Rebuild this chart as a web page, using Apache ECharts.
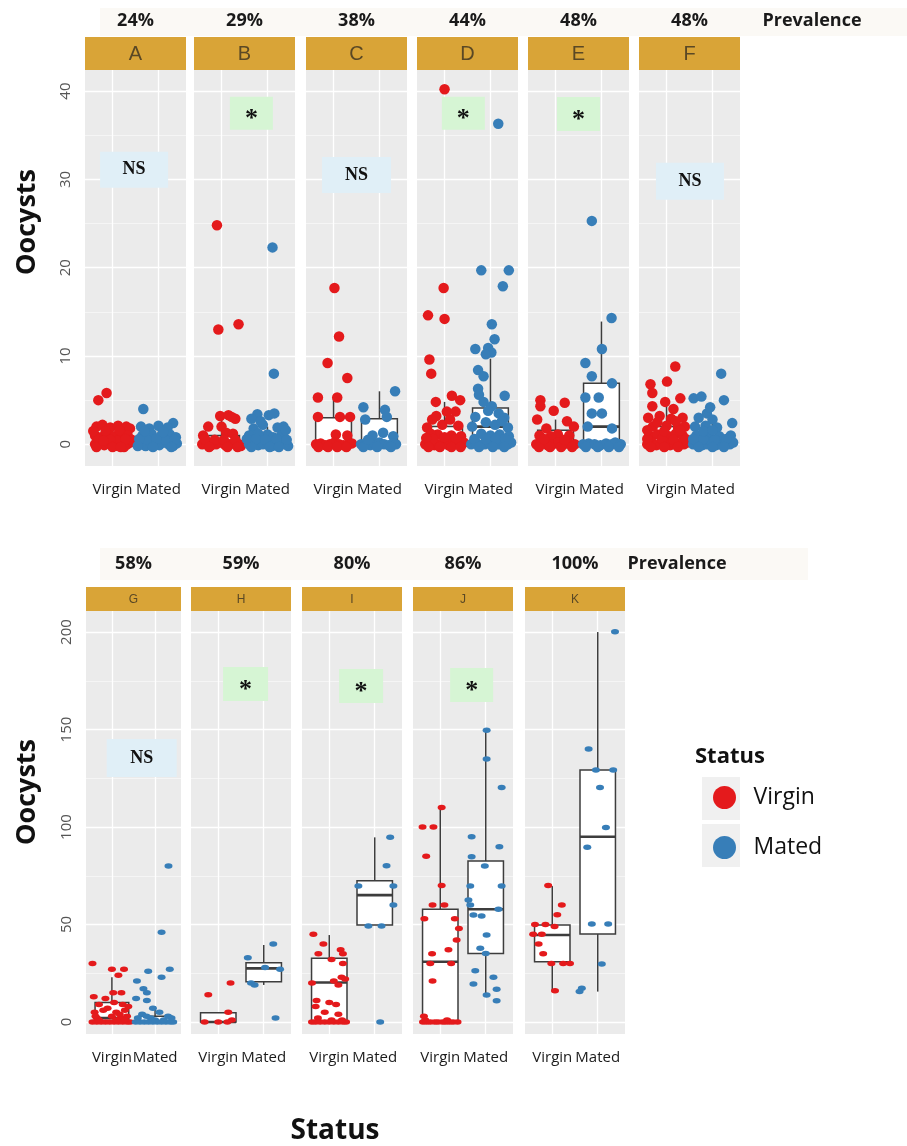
<!DOCTYPE html>
<html><head><meta charset="utf-8">
<script src="https://cdn.jsdelivr.net/npm/echarts@6/dist/echarts.min.js"></script>
<style>html,body{margin:0;padding:0;background:#fff}#chart{width:907px;height:1146px}</style>
</head><body><div id="chart"></div>
<script>
// ---------------- data ----------------
const panels = ['A','B','C','D','E','F','G','H','I','J','K'];
const prevalence = ['24%','29%','38%','44%','48%','48%','58%','59%','80%','86%','100%'];
const significance = ['NS','*','NS','*','*','NS','NS','*','*','*',''];
const statusNames = ['Virgin','Mated'];
const topTicks = [0,10,20,30,40];
const topMinor = [5,15,25,35];
const bottomTicks = [0,50,100,150,200];
const bottomMinor = [25,75,125,175];

// box statistics [min, Q1, median, Q3, max]
const boxVirgin = [[0,0,0,1,2],[0,0,0,1,3],[0,0,0,3,5.3],[0,0,0,2,4.8],[0,0,0,1.6,2.8],[0,0,1,2,4.5],
  [0,0,2,10,23],[0,0,0,4.8,4.8],[0,0,20.3,32.7,44.6],[0,0,30.9,57.8,110.4],[15.6,30.9,44.6,49.7,69.7]];
const boxMated = [[0,0,0,1,2],[0,0,0,1,2],[0,0,0,2.9,6],[0,1,2,4.1,9.7],[0,0,2,6.9,13.9],[0,0,0,1,2.4],
  [0,0,0,3,8],[19,20.7,27.5,30.4,39.5],[49.7,49.7,65.1,72.5,94.7],[13.8,35.2,57.8,82.6,149.7],[15.6,45.1,95,129.2,200]];

// jittered observations: [horizontal jitter, oocysts]
const virginA = [[-0.31,5],[-0.13,5.8],[-0.35,2],[-0.22,2.2],[-0.05,1.9],[0.12,2.1],[0.3,2],[0.38,1.8],[-0.38,1],[-0.25,0.8],[-0.1,1.1],[0.05,0.9],[0.2,1.2],[0.33,1],[-0.38,0],[-0.28,0.2],[-0.18,-0.1],[-0.08,0.1],[0.02,0],[0.12,-0.2],[0.22,0.1],[0.32,0],[0.38,0.2],[-0.3,0.5],[0.1,0.4],[0.25,-0.3],[-0.42,1.5],[-0.15,1.5],[0.15,1.6],[0.42,0.5],[-0.05,0.5],[0.28,0.6],[-0.35,-0.3],[0,-0.3],[0.18,-0.3],[-0.2,0.4]];
const matedA = [[-0.33,4],[0.32,2.4],[-0.38,2],[-0.2,1.8],[0,2.1],[0.2,1.9],[-0.35,1],[-0.15,1.2],[0.05,0.9],[0.25,1.1],[0.38,0.8],[-0.38,0],[-0.28,-0.2],[-0.18,0.2],[-0.08,0],[0.02,-0.1],[0.12,0.2],[0.22,0],[0.32,-0.2],[0.4,0.1],[-0.25,0.5],[0.15,0.5],[-0.42,0.6],[-0.05,0.6],[0.35,0.5],[-0.3,1.5],[0.1,1.4],[-0.12,-0.3],[0.28,-0.3],[-0.45,-0.2]];
const virginB = [[-0.1,24.8],[-0.07,13],[0.37,13.6],[-0.03,3.2],[0.15,3.3],[0.3,2.9],[0.22,3.1],[-0.29,2],[0,2],[0.1,1.3],[-0.4,1],[0.25,1.2],[-0.42,0],[-0.32,0.2],[-0.22,-0.1],[-0.12,0],[-0.02,0.2],[0.08,-0.1],[0.18,0],[0.28,0.1],[0.38,0],[0.42,-0.2],[-0.36,0.6],[-0.15,0.5],[0.05,0.5],[0.3,0.5],[-0.27,-0.3],[0.13,-0.3],[0.35,-0.3]];
const matedB = [[0.11,22.3],[0.14,8],[-0.22,3.4],[0.03,3.3],[0.15,3.5],[-0.35,2.9],[0.35,2],[-0.1,2.2],[0.22,1.9],[-0.3,1.8],[0,1.1],[-0.4,1],[0.3,1],[0.12,0.8],[-0.2,1.2],[-0.4,0],[-0.3,0.2],[-0.2,-0.1],[-0.1,0],[0,0.2],[0.1,-0.2],[0.2,0],[0.3,0.1],[0.4,0],[0.45,-0.2],[-0.45,0.6],[-0.25,0.6],[-0.05,0.5],[0.2,0.6],[0.42,0.5],[-0.35,-0.3],[0.05,-0.3],[0.25,-0.3],[-0.15,2.6],[0.4,1.6]];
const virginC = [[0.02,17.7],[0.12,12.2],[-0.13,9.2],[0.3,7.5],[-0.34,5.3],[0.08,5.3],[-0.34,3.1],[0.14,3.1],[0.36,3.1],[0.05,1.1],[0.3,1],[-0.38,0],[-0.28,0.1],[-0.18,-0.1],[-0.08,0],[0.02,0.2],[0.12,0],[0.22,-0.1],[0.32,0],[0.4,0.1],[-0.33,-0.3],[-0.12,-0.3],[0.08,-0.3],[0.28,-0.3]];
const matedC = [[0.34,6],[-0.35,4.2],[0.12,3.9],[-0.31,2.8],[0.16,3.1],[0.08,1.3],[-0.15,1],[0.3,0.9],[-0.4,0],[-0.3,0.1],[-0.2,-0.1],[-0.1,0],[0,0.2],[0.1,0],[0.2,-0.1],[0.3,0.1],[0.36,0],[-0.35,-0.3],[-0.05,-0.3],[0.25,-0.3],[-0.25,0.5]];
const virginD = [[0,40.2],[-0.02,17.7],[-0.36,14.6],[0,14.2],[-0.33,9.6],[-0.29,8],[-0.19,4.8],[0.16,5.5],[0.34,5],[0.05,3.7],[0.24,3.7],[-0.27,2.8],[-0.05,2.2],[0.3,2.1],[-0.38,1.9],[-0.15,1.1],[0.15,1],[0.36,0.9],[-0.3,1.2],[-0.42,0],[-0.32,0.2],[-0.22,-0.1],[-0.12,0],[-0.02,0.2],[0.08,-0.1],[0.18,0],[0.28,0.1],[0.38,0],[0.42,0.2],[-0.25,0.6],[0.1,0.5],[-0.4,0.7],[0.0,0.8],[0.25,0.6],[-0.35,-0.3],[-0.1,-0.3],[0.15,-0.3],[0.35,-0.3],[0.12,2.8],[-0.18,3.2]];
const matedD = [[0.17,36.3],[-0.2,19.7],[0.4,19.7],[0.27,17.9],[0.03,13.6],[0.09,11.9],[-0.33,10.8],[-0.05,10.9],[0.02,10.4],[-0.1,10.2],[-0.27,8.4],[-0.15,7.7],[-0.27,6.3],[-0.25,5.6],[0.31,5.5],[-0.15,4.8],[0.03,4.3],[0.18,3.5],[-0.33,3.1],[0.3,3],[-0.1,2.5],[0.1,2.2],[-0.4,2],[0.38,1.9],[-0.2,1.2],[0,1],[0.2,1.1],[0.4,0.9],[-0.42,0],[-0.32,0.2],[-0.22,-0.1],[-0.12,0],[-0.02,0.2],[0.08,-0.1],[0.18,0],[0.28,0.1],[0.38,0],[0.45,0.2],[-0.35,0.6],[-0.1,0.6],[0.12,0.6],[0.32,0.6],[-0.25,-0.3],[0.05,-0.3],[0.3,-0.3],[-0.05,3.8],[0.25,2.6]];
const virginE = [[-0.33,5],[0.2,4.7],[-0.33,4.3],[-0.04,3.8],[-0.4,2.8],[0.25,2.6],[0.4,2],[-0.2,1.8],[0.05,1.1],[0.3,1],[-0.35,1],[-0.1,0.9],[-0.42,0],[-0.3,0.2],[-0.18,-0.1],[-0.06,0],[0.06,0.2],[0.18,0],[0.3,0.1],[0.42,0],[-0.36,-0.3],[-0.12,-0.3],[0.12,-0.3],[0.36,-0.3],[-0.25,0.6],[0.2,0.5]];
const matedE = [[-0.21,25.3],[0.22,14.3],[0.01,10.8],[-0.35,9.2],[-0.21,7.7],[0.23,6.9],[-0.35,5.3],[-0.06,5.3],[-0.21,3.5],[0.01,3.5],[0.23,1.8],[-0.3,2],[0.35,0],[-0.4,0],[-0.28,0.1],[-0.15,0],[-0.02,-0.1],[0.1,0.1],[0.22,0],[0.3,0.2],[0.42,0],[-0.34,-0.3],[-0.08,-0.3],[0.16,-0.3],[0.38,-0.3]];
const virginF = [[0.19,8.8],[0.01,7.1],[-0.35,6.8],[-0.31,5.8],[-0.03,4.8],[0.3,5.2],[-0.31,4.3],[0.15,4],[-0.4,3],[-0.15,3.2],[0.1,2.9],[0.35,3],[-0.3,2],[0,2.1],[0.25,1.9],[0.4,2],[-0.38,1],[-0.2,1.1],[0.05,0.9],[0.2,1.2],[0.35,1],[-0.42,0],[-0.32,0.2],[-0.22,-0.1],[-0.12,0],[-0.02,0.2],[0.08,-0.1],[0.18,0],[0.28,0.1],[0.38,0],[0.45,0.2],[-0.42,0.6],[-0.1,0.6],[0.15,0.5],[0.42,0.6],[-0.35,-0.3],[-0.05,-0.3],[0.25,-0.3],[-0.2,2.5],[0.2,2.6],[-0.05,1.5],[0.3,1.6],[-0.42,1.6]];
const matedF = [[0.19,8],[0.25,5],[-0.41,5.2],[-0.24,5.4],[-0.12,3.5],[0.43,2.4],[-0.3,3],[0,2.8],[-0.38,2],[-0.15,2.1],[0.1,1.9],[-0.35,1],[-0.1,1.1],[0.15,0.9],[0.4,1],[-0.42,0],[-0.32,0.2],[-0.22,-0.1],[-0.12,0],[-0.02,0.2],[0.08,-0.1],[0.18,0],[0.28,0.1],[0.38,0],[0.45,0.2],[-0.42,0.6],[-0.2,0.6],[0.05,0.5],[0.3,0.6],[-0.3,-0.3],[0.0,-0.3],[0.25,-0.3],[-0.2,1.5],[0.0,1.6],[-0.05,4.2]];
const virginG = [[-0.45,30],[0,27],[0.28,27],[0.15,24],[-0.42,13],[-0.15,12],[0.03,15],[0.22,15],[-0.3,9],[0.05,10],[0.25,9],[-0.4,5],[-0.2,6],[0.1,5],[0.3,6],[-0.35,2],[0,3],[0.2,2],[0.35,3],[-0.45,0],[-0.35,0],[-0.25,0],[-0.15,0],[-0.05,0],[0.05,0],[0.15,0],[0.25,0],[0.35,0],[0.42,0],[-0.3,1],[0.1,1],[0.3,1],[-0.1,7],[0.38,8],[-0.38,3],[0.18,4]];
const matedG = [[0.31,80],[0.15,46],[0.34,27],[-0.16,26],[0.15,23],[-0.42,21],[-0.27,17],[-0.19,15],[-0.44,12],[-0.19,11],[-0.05,7],[0.1,5],[-0.3,4],[-0.45,0],[-0.35,0],[-0.25,0],[-0.15,0],[-0.05,0],[0.05,0],[0.15,0],[0.25,0],[0.35,0],[0.42,0],[-0.4,2],[-0.1,2],[0.2,1],[0.38,2],[-0.2,3],[0.3,3],[0.0,1]];
const virginH = [[-0.22,14],[0.27,20],[0.22,5],[-0.3,0],[0,0],[0.2,0],[0.3,1]];
const matedH = [[0.21,40],[-0.35,33],[0.03,28],[0.36,27],[-0.28,20],[-0.2,19],[0.26,2]];
const virginI = [[-0.35,45],[-0.13,40],[0.25,37],[0.3,35],[-0.24,35],[0.3,30],[0.05,32],[0.27,23],[0.35,22],[-0.38,20],[0.1,21],[0.2,19],[-0.28,11],[0,10],[-0.3,8],[0.15,9],[-0.1,5],[0.2,4],[-0.38,0],[-0.3,0],[-0.2,0],[-0.1,0],[0,0],[0.1,0],[0.2,0],[0.3,0],[0.37,0],[-0.25,2],[0.05,1],[0.28,1]];
const matedI = [[0.34,94.7],[0.26,80.2],[-0.36,69.7],[0.41,69.7],[0.41,60],[-0.14,49.2],[0.15,49.2],[0.12,0]];
const virginJ = [[0.03,110],[-0.39,100],[-0.15,100],[-0.31,85],[0.03,70],[-0.17,60],[0.09,60],[-0.35,53],[0.32,53],[0.41,48],[0.36,42],[-0.18,35],[0.18,37],[-0.22,30],[0.24,30],[-0.17,21],[-0.38,0],[-0.33,1],[-0.3,0],[-0.22,0],[-0.12,0],[-0.05,0],[0.05,0],[0.12,0],[0.2,0],[0.28,0],[0.38,0],[-0.36,3],[0.15,1]];
const matedJ = [[0.02,149.7],[0.02,134.9],[0.35,120.3],[-0.31,95],[0.3,89.9],[-0.31,84.8],[-0.02,80],[-0.34,69.7],[0.35,69.7],[-0.38,62.6],[-0.34,60],[0.28,57.8],[-0.27,54.9],[-0.09,54.4],[0.02,44.6],[-0.12,37.8],[0,35.2],[-0.23,26.3],[0.17,22.9],[-0.27,19.5],[0.24,16.8],[0.02,13.8],[0.24,10.9]];
const virginK = [[-0.09,70],[0.21,60],[0.11,55],[-0.38,50],[-0.15,50],[0.05,49],[-0.42,45],[-0.23,45],[-0.3,40],[-0.2,35],[-0.02,30],[0.24,30],[0.39,30],[0.06,16]];
const matedK = [[0.38,200.2],[-0.2,140],[-0.04,129.2],[0.34,129.2],[0.05,120.3],[0.18,99.8],[-0.23,89.6],[-0.13,50.3],[0.23,50.3],[0.09,29.7],[-0.35,17.3],[-0.4,15.6]];

const virginPoints = [virginA,virginB,virginC,virginD,virginE,virginF,virginG,virginH,virginI,virginJ,virginK];
const matedPoints = [matedA,matedB,matedC,matedD,matedE,matedF,matedG,matedH,matedI,matedJ,matedK];

// ---------------- layout ----------------
const rows = {
  top: {lefts:[85,194,306,417,528,639], widths:[101,101,101,101,101,101], top:70, height:396,
        yMin:-2.46, yMax:42.39, ticks:topTicks, minor:topMinor, stripTop:37, stripH:33, stripFont:20,
        prevY:21, prevWordX:812, band:[100,8,807,28], titleY:222, sym:10.5},
  bottom: {lefts:[86,191,302,413,525], widths:[95,100,100,100,100], top:611, height:423,
        yMin:-6.15, yMax:210.8, ticks:bottomTicks, minor:bottomMinor, stripTop:587, stripH:24, stripFont:12,
        prevY:564, prevWordX:677, band:[100,548,708,32], titleY:792, sym:[8,5.5]}
};
// annotation box: [x, y] in panel data units, [w, h] in px
const annotLayout = [[1.47,31.1,68,36],[1.65,37.5,43,33],[1.5,30.5,69,36],[1.41,37.5,43,33],[1.5,37.4,43,34],[1.51,29.8,68,37],
  [1.69,135.4,70,38],[1.6,173.3,45,34],[1.7,172.3,44,34],[1.69,172.8,43,34],null];
const BOX_WIDTH = 0.78; // in category units

const RED = '#E41A1C', BLUE = '#377EB8', BOX_LINE = '#3d3d3d';
const FONT = '"Open Sans", "Liberation Sans", sans-serif';

function renderBox(params, api) {
  const x = api.value(0);
  const pMin = api.coord([x, api.value(1)]);
  const pQ1 = api.coord([x, api.value(2)]);
  const pMed = api.coord([x, api.value(3)]);
  const pQ3 = api.coord([x, api.value(4)]);
  const pMax = api.coord([x, api.value(5)]);
  const w = api.size([BOX_WIDTH, 0])[0];
  const cx = pMed[0];
  const ln = {stroke:BOX_LINE, lineWidth:1.5};
  return {type:'group', children:[
    {type:'line', shape:{x1:cx, y1:pQ1[1], x2:cx, y2:pMin[1]}, style:ln},
    {type:'line', shape:{x1:cx, y1:pQ3[1], x2:cx, y2:pMax[1]}, style:ln},
    {type:'rect', shape:{x:cx - w/2, y:pQ3[1], width:w, height:Math.max(pQ1[1] - pQ3[1], 0.5)}, style:{fill:'#ffffff', stroke:BOX_LINE, lineWidth:1.5}},
    {type:'line', shape:{x1:cx - w/2, y1:pMed[1], x2:cx + w/2, y2:pMed[1]}, style:{stroke:BOX_LINE, lineWidth:2.6}}
  ]};
}

const grids = [], xAxes = [], yAxes = [], series = [], graphic = [];

['top','bottom'].forEach(rk => {
  const r = rows[rk];
  graphic.push({type:'rect', z:0, shape:{x:r.band[0], y:r.band[1], width:r.band[2], height:r.band[3]}, style:{fill:'#fbf9f5'}});
  graphic.push({type:'text', z:1, x:r.prevWordX, y:r.prevY, style:{text:'Prevalence', font:'bold 18px ' + FONT, fill:'#1a1a1a', align:'center', verticalAlign:'middle'}});
  graphic.push({type:'text', z:1, x:27, y:r.titleY, rotation:Math.PI/2, style:{text:'Oocysts', font:'bold 27px ' + FONT, fill:'#111', align:'center', verticalAlign:'middle'}});
});

panels.forEach((p, i) => {
  const isTop = i < 6;
  const r = isTop ? rows.top : rows.bottom;
  const j = isTop ? i : i - 6;
  const left = r.lefts[j], width = r.widths[j];
  grids.push({left:left, top:r.top, width:width, height:r.height, show:true, backgroundColor:'#ebebeb', borderWidth:0});
  xAxes.push({gridIndex:i, type:'value', min:0.4, max:2.6,
    splitLine:{show:false}, axisLine:{show:false},
    axisTick:{show:true, customValues:[1,2], length:3, lineStyle:{color:'#444', width:1}},
    axisLabel:{show:true, customValues:[1,2], hideOverlap:false, formatter:v => statusNames[Math.round(v) - 1], fontSize:15, color:'#1a1a1a', fontFamily:FONT, margin:16}
  });
  yAxes.push({gridIndex:i, type:'value', min:r.yMin, max:r.yMax,
    splitLine:{show:false}, axisLine:{show:false}, axisTick:{show:false},
    axisLabel:{show:j === 0, customValues:r.ticks, hideOverlap:false, rotate:90, fontSize:15, color:'#555', fontFamily:FONT, margin:12}
  });
  const lines = [];
  r.minor.forEach(v => lines.push({yAxis:v, lineStyle:{color:'#f7f7f7', width:0.8, type:'solid'}}));
  r.ticks.forEach(v => lines.push({yAxis:v, lineStyle:{color:'#ffffff', width:1.3, type:'solid'}}));
  [1,2].forEach(v => lines.push({xAxis:v, lineStyle:{color:'#ffffff', width:1.3, type:'solid'}}));
  const helper = {type:'scatter', xAxisIndex:i, yAxisIndex:i, data:[], silent:true, z:1,
    markLine:{silent:true, z:1, symbol:['none','none'], label:{show:false}, animation:false, data:lines}};
  const a = annotLayout[i];
  if (a && significance[i]) {
    const ns = significance[i] === 'NS';
    helper.markPoint = {silent:true, z:6, animation:false, data:[{
      coord:[a[0], a[1]], symbol:'rect', symbolSize:[a[2], a[3]],
      itemStyle:{color: ns ? '#e0eff7' : '#d6f5d4'},
      label:{show:true, position:'inside', formatter:significance[i], color:'#111',
        fontFamily:'"Liberation Serif", serif', fontWeight:'bold', fontSize: ns ? 18 : 26, offset: ns ? [0,0] : [0,6]}
    }]};
  }
  series.push(helper);
  series.push({type:'custom', xAxisIndex:i, yAxisIndex:i, z:2, silent:true,
    encode:{x:0, y:[1,2,3,4,5]}, renderItem:renderBox,
    data:[[1].concat(boxVirgin[i]), [2].concat(boxMated[i])]});
  series.push({type:'scatter', name:'Virgin', xAxisIndex:i, yAxisIndex:i, z:3, silent:true,
    symbolSize:r.sym, itemStyle:{color:RED, opacity:1},
    data:virginPoints[i].map(d => [1 + d[0], d[1]])});
  series.push({type:'scatter', name:'Mated', xAxisIndex:i, yAxisIndex:i, z:3, silent:true,
    symbolSize:r.sym, itemStyle:{color:BLUE, opacity:1},
    data:matedPoints[i].map(d => [2 + d[0], d[1]])});
  graphic.push({type:'rect', z:1, shape:{x:left, y:r.stripTop, width:width, height:r.stripH}, style:{fill:'#d9a437'}});
  graphic.push({type:'text', z:2, x:left + width/2, y:r.stripTop + r.stripH/2 + 1, style:{text:p, font:r.stripFont + 'px "Liberation Sans", sans-serif', fill:'#5a4825', align:'center', verticalAlign:'middle'}});
  graphic.push({type:'text', z:2, x:left + width/2, y:r.prevY, style:{text:prevalence[i], font:'bold 18px ' + FONT, fill:'#1a1a1a', align:'center', verticalAlign:'middle'}});
});

graphic.push({type:'text', z:1, x:335, y:1131, style:{text:'Status', font:'bold 28px ' + FONT, fill:'#111', align:'center', verticalAlign:'middle'}});
graphic.push({type:'text', z:1, x:695, y:757, style:{text:'Status', font:'bold 22px ' + FONT, fill:'#111', align:'left', verticalAlign:'middle'}});
graphic.push({type:'rect', z:0, shape:{x:702, y:777, width:38, height:43}, style:{fill:'#f0f0f0'}});
graphic.push({type:'rect', z:0, shape:{x:702, y:824, width:38, height:43}, style:{fill:'#f0f0f0'}});

const chart = echarts.init(document.getElementById('chart'), null, {renderer:'canvas'});
chart.setOption({
  animation:false,
  backgroundColor:'#ffffff',
  grid:grids, xAxis:xAxes, yAxis:yAxes, series:series,
  legend:{data:statusNames, orient:'vertical', left:713, top:786, padding:0, icon:'circle',
    itemWidth:48, itemHeight:23, itemGap:27, selectedMode:false, z:5,
    textStyle:{fontSize:23, color:'#111', fontFamily:FONT, lineHeight:23}},
  graphic:graphic
});
</script></body></html>
